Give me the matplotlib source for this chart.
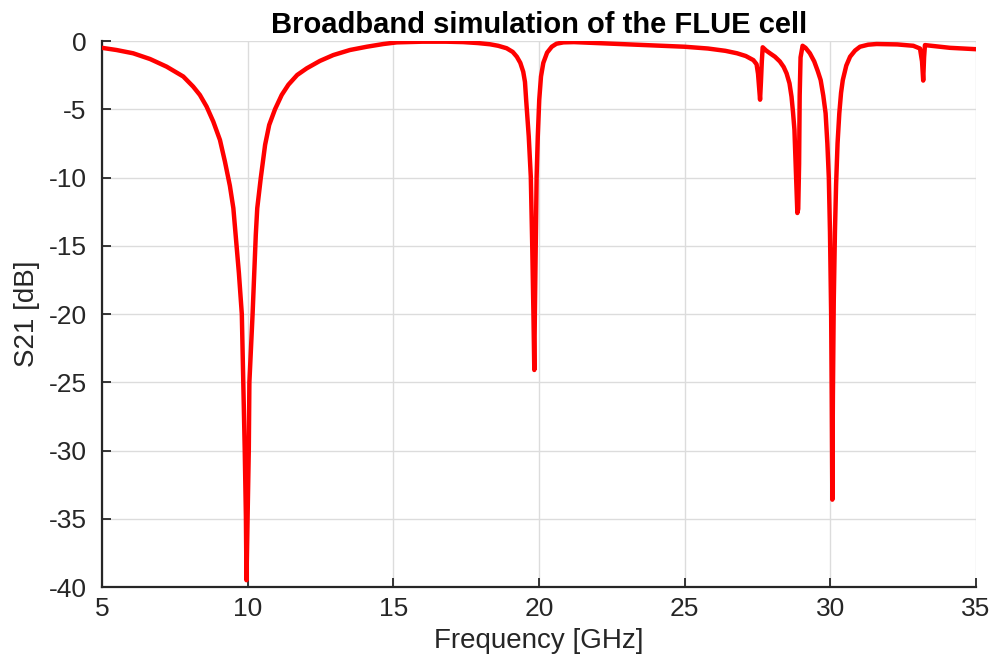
import matplotlib
matplotlib.use("Agg")
import matplotlib.pyplot as plt

plt.rcParams['font.family'] = ['Liberation Sans', 'DejaVu Sans']
plt.rcParams['axes.unicode_minus'] = False

freq_ghz = [5.00, 5.50, 6.07, 6.65, 7.22, 7.79, 8.13, 8.36, 8.59, 8.82, 9.05, 9.22, 9.39, 9.51,
            9.60, 9.70, 9.80, 9.85, 9.90, 9.94, 9.96, 10.00, 10.04, 10.06, 10.17, 10.28, 10.33,
            10.45, 10.60, 10.74, 10.94, 11.17, 11.40, 11.70, 12.03, 12.48, 12.94, 13.51, 14.09,
            14.66, 15.12, 16.00, 16.80, 17.40, 17.90, 18.32, 18.60, 18.89, 19.10, 19.24, 19.36,
            19.46, 19.52, 19.56, 19.65, 19.72, 19.77, 19.81, 19.84, 19.86, 19.89, 19.92, 19.96,
            20.01, 20.07, 20.15, 20.28, 20.44, 20.60, 20.84, 21.20, 22.00, 23.00, 24.00, 25.00,
            25.80, 26.40, 26.80, 27.10, 27.36, 27.47, 27.52, 27.56, 27.59, 27.62, 27.65, 27.68,
            27.80, 27.93, 28.10, 28.27, 28.40, 28.50, 28.60, 28.67, 28.72, 28.77, 28.82, 28.87,
            28.90, 28.93, 28.95, 28.98, 29.05, 29.15, 29.30, 29.45, 29.57, 29.67, 29.76, 29.84,
            29.90, 29.95, 29.99, 30.03, 30.05, 30.07, 30.09, 30.12, 30.16, 30.20, 30.25, 30.31,
            30.37, 30.43, 30.55, 30.68, 30.85, 31.02, 31.30, 31.59, 32.30, 32.85, 33.08, 33.15,
            33.19, 33.22, 33.25, 34.11, 35.00]
s21_db = [-0.50, -0.66, -0.90, -1.32, -1.88, -2.60, -3.34, -3.95, -4.80, -5.90, -7.25, -8.83, -10.6, -12.25,
          -14.5, -17.0, -20.0, -25.0, -29.9, -34.8, -39.5, -34.8, -29.9, -25.0, -20.0, -14.2, -12.25,
          -10.05, -7.60, -6.15, -5.00, -3.95, -3.20, -2.49, -2.00, -1.46, -1.03, -0.66, -0.42,
          -0.22, -0.10, -0.05, -0.05, -0.08, -0.15, -0.24, -0.35, -0.53, -0.80, -1.15, -1.60,
          -2.25, -3.00, -4.30, -7.00, -9.94, -15.07, -19.9, -24.1, -19.9, -15.07, -9.94, -7.00,
          -4.30, -2.60, -1.60, -0.85, -0.42, -0.20, -0.10, -0.08, -0.15, -0.23, -0.32, -0.42,
          -0.55, -0.72, -0.90, -1.10, -1.40, -1.70, -2.40, -3.50, -4.30, -3.00, -1.50, -0.46,
          -0.70, -0.90, -1.15, -1.50, -1.90, -2.37, -3.10, -4.08, -5.20, -6.50, -9.45, -12.6,
          -12.3, -9.00, -4.00, -1.20, -0.35, -0.50, -0.90, -1.50, -2.20, -2.86, -4.00, -5.30,
          -7.50, -10.0, -14.0, -20.0, -26.0, -33.6, -26.0, -19.0, -14.0, -10.5, -7.50, -5.30,
          -3.80, -2.86, -1.80, -1.15, -0.70, -0.42, -0.27, -0.22, -0.25, -0.35, -0.55, -1.50,
          -2.90, -1.20, -0.30, -0.50, -0.60]

x_ticks = [5, 10, 15, 20, 25, 30, 35]
y_ticks = [0, -5, -10, -15, -20, -25, -30, -35, -40]

fig = plt.figure(figsize=(9.92, 6.54), dpi=100)
ax = fig.add_axes([0.1028, 0.1024, 0.881, 0.8349])
ax.plot(freq_ghz, s21_db, color='#ff0000', linewidth=3.2, solid_joinstyle='round',
        solid_capstyle='round', zorder=3)

ax.set_xlim(5, 35)
ax.set_ylim(-40, 0)
ax.set_xticks(x_ticks)
ax.set_yticks(y_ticks)
ax.grid(True, color='#dcdcdc', linewidth=1.0)
ax.set_axisbelow(True)
for side in ['top', 'right']:
    ax.spines[side].set_visible(False)
for side in ['left', 'bottom']:
    ax.spines[side].set_linewidth(1.6)
    ax.spines[side].set_color('#262626')
ax.tick_params(direction='in', length=6.5, width=1.3, colors='#262626', labelsize=19)
ax.tick_params(axis='x', pad=7)
ax.tick_params(axis='y', pad=11)
ax.set_xlabel('Frequency [GHz]', fontsize=20, color='#262626', labelpad=5)
ax.set_ylabel('S21 [dB]', fontsize=20, color='#262626', labelpad=6)
ax.set_title('Broadband simulation of the FLUE cell', fontsize=21, fontweight='bold', pad=6)

fig.savefig('out.png', dpi=100)
